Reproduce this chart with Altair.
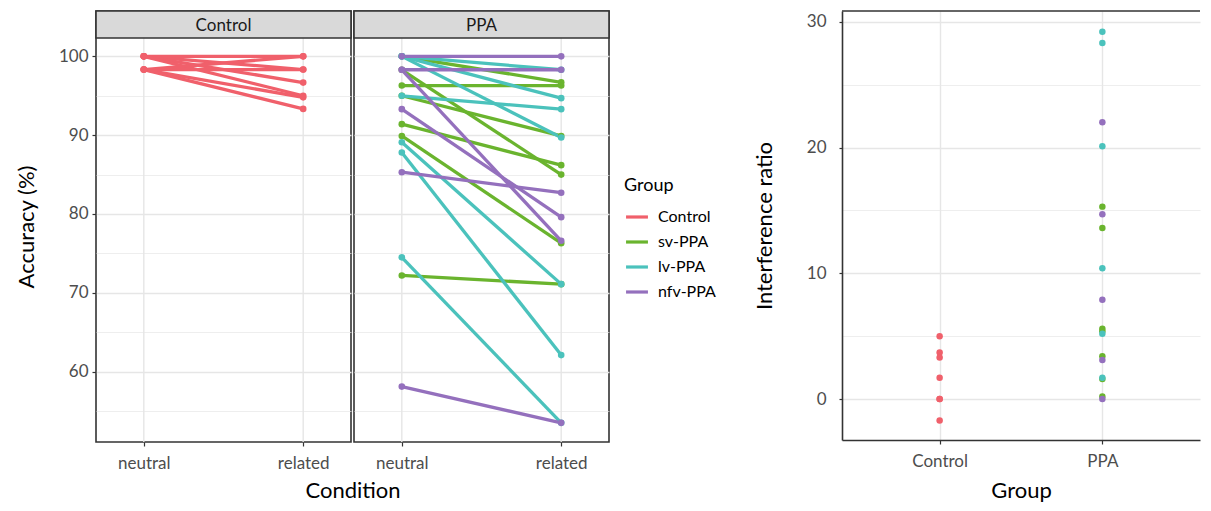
import altair as alt
import pandas as pd

group_names = ["Control", "sv-PPA", "lv-PPA", "nfv-PPA"]
group_colors = ["#F0606B", "#6AB42E", "#4BC2BC", "#9470BD"]
conditions = ["neutral", "related"]
panels = ["Control", "PPA"]

# Accuracy (%) per participant: neutral vs related
ctrl_neutral = [100, 100, 100, 100, 98.33, 98.33, 98.33, 98.33]
ctrl_related = [100, 98.33, 96.67, 95.0, 94.8, 93.33, 100, 98.33]
sv_neutral = [100, 98.3, 96.3, 95.0, 91.4, 89.9, 72.2]
sv_related = [96.7, 85.0, 96.3, 89.9, 86.2, 76.3, 71.1]
lv_neutral = [100, 100, 100, 95.0, 89.1, 87.8, 74.5]
lv_related = [98.3, 94.7, 89.7, 93.3, 71.1, 62.1, 53.5]
nfv_neutral = [100, 98.3, 98.3, 93.3, 85.3, 58.1]
nfv_related = [100, 98.3, 76.6, 79.6, 82.7, 53.5]

# Interference ratio per participant
ctrl_ratio = [5.0, 3.7, 3.3, 1.7, 0.0, 0.0, -1.7]
sv_ratio = [15.3, 13.6, 5.6, 5.4, 3.4, 1.6, 0.2]
lv_ratio = [29.2, 28.3, 20.1, 10.4, 5.2, 1.7]
nfv_ratio = [22.0, 14.7, 7.9, 3.1, 0.0]

acc_rows = []
sid = 0
for panel, grp, neu, rel in [
    ("Control", "Control", ctrl_neutral, ctrl_related),
    ("PPA", "sv-PPA", sv_neutral, sv_related),
    ("PPA", "lv-PPA", lv_neutral, lv_related),
    ("PPA", "nfv-PPA", nfv_neutral, nfv_related),
]:
    for n, r in zip(neu, rel):
        acc_rows.append({"id": sid, "Panel": panel, "Group": grp, "Condition": "neutral", "Accuracy": n})
        acc_rows.append({"id": sid, "Panel": panel, "Group": grp, "Condition": "related", "Accuracy": r})
        sid += 1
acc_df = pd.DataFrame(acc_rows)

ratio_rows = []
for panel, grp, vals in [
    ("Control", "Control", ctrl_ratio),
    ("PPA", "sv-PPA", sv_ratio),
    ("PPA", "lv-PPA", lv_ratio),
    ("PPA", "nfv-PPA", nfv_ratio),
]:
    for v in vals:
        ratio_rows.append({"Panel": panel, "Group": grp, "Ratio": v})
ratio_df = pd.DataFrame(ratio_rows)

FONT = "Lato"
GRID = "#e6e6e6"
DARK = "#333333"
LBL = "#4d4d4d"

legend = alt.Legend(
    orient="none", legendX=528, legendY=166, title="Group",
    titleFontSize=18, titleFontWeight="normal", titleColor="black", titlePadding=9,
    labelFontSize=16, labelColor="black", symbolType="stroke", symbolStrokeWidth=3.2,
    symbolSize=480, rowPadding=4, labelOffset=8, padding=0,
)
color = alt.Color("Group:N", scale=alt.Scale(domain=group_names, range=group_colors), legend=legend)

major_test = "datum.value % 10 === 0"
PW, PH, SH = 255, 431, 27
Y_LO, Y_HI = 51.07, 102.33
Y_TOP = Y_HI + SH * (Y_HI - Y_LO) / (PH - SH)   # room for the strip above the panel
cond_df = pd.DataFrame({"Condition": conditions})


def make_panel(name, first):
    d = acc_df[acc_df.Panel == name]
    strip_df = pd.DataFrame({"Panel": [name]})
    xax = dict(grid=False, domain=False, ticks=True,
               tickColor=DARK, tickSize=4, tickWidth=1.2, labelFontSize=17, labelColor=LBL,
               labelPadding=9, labelAngle=0, labelAlign="center", titleFontSize=22,
               titleFontWeight="normal", titleColor="black", titlePadding=9)
    if first:
        xax.update(title="Condition", titleX=PW + 1.5, titleAlign="center")
    else:
        xax.update(title=None)
    xaxis = alt.Axis(**xax)
    yax = dict(values=[55, 60, 65, 70, 75, 80, 85, 90, 95, 100], grid=True, gridColor=GRID,
               gridWidth={"condition": {"test": major_test, "value": 1.4}, "value": 0.7},
               domain=False)
    if first:
        yax.update(title="Accuracy (%)", titleFontSize=22, titleFontWeight="normal",
                   titleColor="black", titlePadding=20, labelFontSize=17, labelColor=LBL,
                   labelPadding=4, tickSize=4, tickColor=DARK, tickWidth=1.2,
                   tickOpacity={"condition": {"test": major_test, "value": 1}, "value": 0},
                   labelExpr="datum.value % 10 === 0 ? datum.label : ''")
    else:
        yax.update(title=None, labels=False, ticks=False)
    xscale = alt.Scale(type="point", domain=conditions, padding=0.3)
    x = alt.X("Condition:N", scale=xscale, axis=xaxis)
    y = alt.Y("Accuracy:Q", scale=alt.Scale(domain=[Y_LO, Y_TOP], nice=False, zero=False),
              axis=alt.Axis(**yax))
    vgrid = alt.Chart(cond_df).mark_rule(color=GRID, strokeWidth=1.4).encode(
        x=alt.X("Condition:N", scale=xscale, axis=xaxis), y=alt.value(SH), y2=alt.value(PH))
    base = alt.Chart(d)
    lines = base.mark_line(strokeWidth=3.3).encode(x=x, y=y, color=color, detail="id:N")
    pts = base.mark_circle(size=44, opacity=1).encode(x=x, y=y, color=color)
    rect = alt.Chart(strip_df).mark_rect(fill="#d9d9d9", stroke=DARK, strokeWidth=1.6).encode(
        x=alt.value(0), x2=alt.value(PW), y=alt.value(0), y2=alt.value(SH))
    txt = alt.Chart(strip_df).mark_text(fontSize=17, color="#1a1a1a", font=FONT).encode(
        x=alt.value(PW / 2), y=alt.value(SH / 2 + 1), text="Panel:N")
    return alt.layer(vgrid, lines, pts, rect, txt).properties(
        width=PW, height=PH, view=alt.ViewBackground(fill="white", stroke=DARK, strokeWidth=1.6))


ctrl_panel = make_panel("Control", True)
ppa_panel = make_panel("PPA", False)
left = alt.hconcat(ctrl_panel, ppa_panel, spacing=3, bounds="flush")

RW, RH = 358, 429
rx = alt.X("Panel:N", scale=alt.Scale(type="point", domain=panels, padding=0.6),
           axis=alt.Axis(title="Group", grid=True, gridColor=GRID, gridWidth=1.4, domain=True,
                         domainColor=DARK, domainWidth=1.6, tickColor=DARK, tickSize=4, tickWidth=1.2,
                         labelFontSize=17, labelColor=LBL, labelPadding=9, labelAngle=0,
                         titleFontSize=22, titleFontWeight="normal", titleColor="black", titlePadding=11))
ry = alt.Y("Ratio:Q", scale=alt.Scale(domain=[-3.25, 30.85], nice=False, zero=False),
           axis=alt.Axis(values=[0, 5, 10, 15, 20, 25, 30], title="Interference ratio", grid=True,
                         gridColor=GRID,
                         gridWidth={"condition": {"test": major_test, "value": 1.4}, "value": 0.7},
                         domain=True, domainColor=DARK, domainWidth=1.6, tickColor=DARK, tickSize=3,
                         tickWidth=1.2,
                         tickOpacity={"condition": {"test": major_test, "value": 1}, "value": 0},
                         labelExpr="datum.value % 10 === 0 ? datum.label : ''",
                         labelFontSize=17, labelColor=LBL, labelPadding=13,
                         titleFontSize=22, titleFontWeight="normal", titleColor="black", titlePadding=30))
rpts = alt.Chart(ratio_df).mark_circle(size=42, opacity=1).encode(x=rx, y=ry, color=color)
top_df = pd.DataFrame({"edge": ["top"]})
top_rule = alt.Chart(top_df).mark_rule(color=DARK, strokeWidth=1.6).encode(
    x=alt.value(0), x2=alt.value(RW), y=alt.value(0))
right = alt.layer(rpts, top_rule).properties(
    width=RW, height=RH, view=alt.ViewBackground(fill="white", stroke="transparent"))

chart = alt.hconcat(left, right, spacing=141).properties(
    padding={"left": 6, "top": 1, "right": 0, "bottom": 0}
).configure(font=FONT).configure_view(stroke=DARK, strokeWidth=1.6)

chart.save("out.html", embed_options={"renderer": "svg", "actions": False})
